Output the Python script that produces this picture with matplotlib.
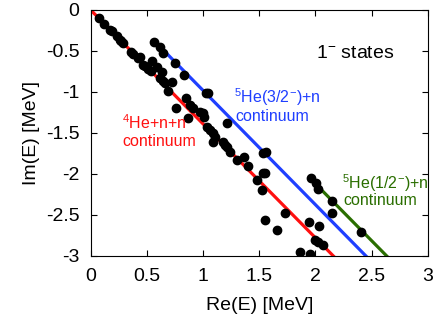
import matplotlib
matplotlib.use("Agg")
import matplotlib.pyplot as plt

plt.rcParams['font.family'] = ['Liberation Sans', 'DejaVu Sans']
plt.rcParams['mathtext.fontset'] = 'custom'
plt.rcParams['mathtext.rm'] = 'Liberation Sans'
plt.rcParams['mathtext.it'] = 'Liberation Sans:italic'

# complex energy eigenvalues (Re, Im) in MeV
re_e = [0.074, 0.118, 0.169, 0.190, 0.237, 0.258, 0.272, 0.288, 0.362, 0.377,
        0.421, 0.440, 0.466, 0.481, 0.510, 0.534, 0.546, 0.593, 0.614, 0.632,
        0.644, 0.664, 0.724, 0.564, 0.617, 0.646, 0.753, 0.828, 1.027, 1.047,
        0.691, 0.849, 0.760, 0.884, 0.914, 0.869, 0.973, 1.003, 1.009, 1.033,
        1.062, 1.092, 1.107, 1.092, 1.175, 1.196, 1.211, 1.240, 1.214, 1.300,
        1.403, 1.561, 1.537, 1.365, 1.532, 1.552, 1.478, 1.525, 1.552, 1.656,
        1.730, 1.959, 2.006, 2.027, 2.146, 2.146, 1.947, 2.036, 1.997, 2.027,
        2.066, 1.864, 1.953, 2.407]
im_e = [-0.098, -0.171, -0.240, -0.260, -0.321, -0.362, -0.382, -0.402, -0.512, -0.537,
        -0.585, -0.570, -0.667, -0.687, -0.716, -0.740, -0.618, -0.699, -0.829, -0.752,
        -0.870, -0.890, -0.878, -0.396, -0.455, -0.524, -0.649, -0.795, -1.016, -1.016,
        -0.984, -1.077, -1.199, -1.159, -1.199, -1.321, -1.240, -1.260, -1.301, -1.423,
        -1.463, -1.504, -1.545, -1.606, -1.606, -1.646, -1.674, -1.728, -1.378, -1.829,
        -1.902, -1.728, -1.740, -1.789, -1.991, -1.991, -2.073, -2.201, -2.561, -2.683,
        -2.479, -2.052, -2.113, -2.187, -2.326, -2.472, -2.582, -2.634, -2.805, -2.826,
        -2.866, -2.948, -2.979, -2.704]

# continuum lines: (re start, re end), (im start, im end)
he4nn_re = [0.0, 2.16]
he4nn_im = [0.0, -3.0]
he5_32_re = [0.59, 2.45]
he5_32_im = [-0.41, -3.0]
he5_12_re = [1.965, 2.635]
he5_12_im = [-2.07, -3.0]

red = '#ff1010'
blue = '#1f3fff'
green = '#2a6e00'

fig = plt.figure(figsize=(4.36, 3.22), dpi=100)
ax = fig.add_axes([0.208, 0.205, 0.773, 0.764])

ax.plot(he4nn_re, he4nn_im, color=red, lw=2.3, zorder=2)
ax.plot(he5_32_re, he5_32_im, color=blue, lw=2.3, zorder=2)
ax.plot(he5_12_re, he5_12_im, color=green, lw=2.3, zorder=2)
ax.plot(re_e, im_e, 'o', color='black', ms=6, zorder=3)

ax.text(0.28, -1.38, '$^{4}$He+n+n', color=red, fontsize=11.5, va='center')
ax.text(0.28, -1.60, 'continuum', color=red, fontsize=11.5, va='center')
ax.text(1.28, -1.06, '$^{5}$He(3/2$^{-}$)+n', color=blue, fontsize=11.5, va='center')
ax.text(1.29, -1.30, 'continuum', color=blue, fontsize=11.5, va='center')
ax.text(2.235, -2.11, '$^{5}$He(1/2$^{-}$)+n', color=green, fontsize=11.5, va='center')
ax.text(2.245, -2.32, 'continuum', color=green, fontsize=11.5, va='center')
ax.text(2.01, -0.53, '1$^{-}$ states', color='black', fontsize=14, va='center')

ax.set_xlim(0, 3)
ax.set_ylim(-3, 0)
ax.set_xticks([0, 0.5, 1, 1.5, 2, 2.5, 3])
ax.set_xticklabels(['0', '0.5', '1', '1.5', '2', '2.5', '3'])
ax.set_yticks([0, -0.5, -1, -1.5, -2, -2.5, -3])
ax.set_yticklabels(['0', '-0.5', '-1', '-1.5', '-2', '-2.5', '-3'])
ax.tick_params(direction='in', top=True, right=True, length=4, width=0.8,
               labelsize=14)
ax.tick_params(axis='x', pad=9)
ax.tick_params(axis='y', pad=8)
ax.set_xlabel('Re(E) [MeV]', fontsize=14, labelpad=8)
ax.set_ylabel('Im(E) [MeV]', fontsize=14, labelpad=4)

fig.savefig('out.png', dpi=100)
